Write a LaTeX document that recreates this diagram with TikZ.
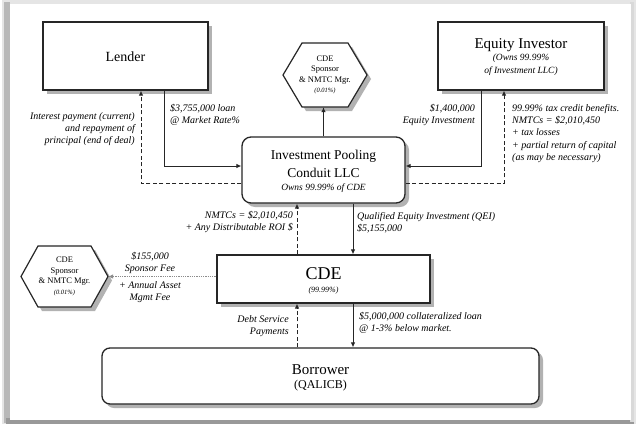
\documentclass[tikz,border=0pt]{standalone}
\usepackage{fontspec}
\setmainfont{Liberation Serif}
\usetikzlibrary{arrows.meta,shadows}

\newcommand\hexat[5]{% cx, cy, half width, half height, chamfer
  \begin{scope}[shift={(#1,#2)}]
    \fill[black!30] ({-#3+#5+4},{-#4+4}) -- ({#3-#5+4},{-#4+4}) -- ({#3+4},4) -- ({#3-#5+4},{#4+4}) -- ({-#3+#5+4},{#4+4}) -- ({-#3+4},4) -- cycle;
    \draw[hexline] ({-#3+#5},{-#4}) -- ({#3-#5},{-#4}) -- (#3,0) -- ({#3-#5},#4) -- ({-#3+#5},#4) -- (-#3,0) -- cycle;
  \end{scope}}

\begin{document}
\begin{tikzpicture}[x=1pt,y=-1pt,
  box/.style={draw=black!85, line width=1.3pt, fill=white, rectangle, inner sep=0pt,
    drop shadow={shadow xshift=4pt,shadow yshift=-4pt,fill=black!30,opacity=1}},
  rbox/.style={box, rounded corners=9pt},
  hexline/.style={draw=black!85, line width=1.2pt, fill=white},
  hexnode/.style={inner sep=0pt, align=center, font=\fontsize{8.5}{10.5}\selectfont},
  title/.style={inner sep=0pt, align=center},
  lbl/.style={inner sep=0pt, font=\fontsize{10}{12.3}\selectfont\itshape},
  arr/.style={-{Latex[length=5pt,width=4.5pt]}, line width=0.9pt, draw=black!85},
  arrd/.style={arr, dash pattern=on 4pt off 2.5pt},
  arrdot/.style={-{Latex[length=5pt,width=4.5pt]}, line width=0.8pt, draw=black!45, dash pattern=on 1pt off 0.8pt}
]
\useasboundingbox (0,0) rectangle (637,426);
% frame
\fill[white] (0,0) rectangle (637,426);
\fill[black!10] (2,0) rectangle (636,424);
\fill[black!28] (4,2) rectangle (10,423);
\fill[black!40] (6,418) rectangle (634,424);
\fill[black!15] (630,2) rectangle (634,422);
\fill[white] (10,4) rectangle (631,420);

% boxes
\node[box, minimum width=165pt, minimum height=68pt] (lender) at (125.5,56) {};
\node[title, font=\fontsize{14}{16}\selectfont] (lenderT) at (125.5,57) {Lender};

\node[box, minimum width=166pt, minimum height=68pt] (equity) at (521,56) {};
\node[title, font=\fontsize{15}{17}\selectfont] (equityT) at (521,45) {Equity Investor};
\node[title, font=\fontsize{9.5}{13}\selectfont\itshape] (equityS) at (521,65) {(Owns 99.99\%\\of Investment LLC)};

\node[rbox, minimum width=163pt, minimum height=66pt] (pool) at (323.5,170) {};
\node[title, font=\fontsize{13.5}{18}\selectfont] (poolT) at (323.5,164) {Investment Pooling\\Conduit LLC};
\node[title, font=\fontsize{9.5}{12}\selectfont\itshape] (poolS) at (323.5,188) {Owns 99.99\% of CDE};

\node[box, minimum width=213pt, minimum height=48pt] (cde) at (323.5,279) {};
\node[title, font=\fontsize{18}{20}\selectfont] (cdeT) at (323.5,274) {CDE};
\node[title, font=\fontsize{8}{10}\selectfont\itshape] (cdeS) at (323.5,291) {(99.99\%)};

\node[rbox, rounded corners=8pt, minimum width=437pt, minimum height=56pt] (borrower) at (320.5,376) {};
\node[title, font=\fontsize{15}{17}\selectfont] (borrowerT) at (320.5,370) {Borrower};
\node[title, font=\fontsize{12}{14}\selectfont] (borrowerS) at (320.5,386) {(QALICB)};

% hexagons
\hexat{325}{75}{42}{32}{19}
\node[hexnode, minimum width=84pt, minimum height=64pt] (hexT) at (325,75) {CDE\\Sponsor\\\& NMTC Mgr.\\{\fontsize{6.5}{8}\selectfont\itshape (0.01\%)}};
\hexat{64.5}{276.5}{43.5}{30.5}{17}
\node[hexnode, minimum width=87pt, minimum height=61pt] (hexL) at (64.5,276.5) {CDE\\Sponsor\\\& NMTC Mgr.\\{\fontsize{6.5}{8}\selectfont\itshape (0.01\%)}};

% junction coordinates
\coordinate (jL) at (164,166);
\coordinate (jLd) at (141,183);
\coordinate (jR) at (481,166);
\coordinate (jRd) at (504,183);
\coordinate (xA) at (297,0);
\coordinate (xB) at (353,0);

% connectors
\draw[arr] (lender.south -| jL) |- (pool.west |- jL);
\draw[arrd] (pool.west |- jLd) -| (lender.south -| jLd);
\draw[arr] (equity.south -| jR) |- (pool.east |- jR);
\draw[arrd] (pool.east |- jRd) -| (equity.south -| jRd);
\draw[arr] (pool.north) -- (pool.north |- hexT.south);
\draw[arrd] (cde.north -| xA) -- (pool.south -| xA);
\draw[arr] (pool.south -| xB) -- (cde.north -| xB);
\draw[arrd] (borrower.north -| xA) -- (cde.south -| xA);
\draw[arr] (cde.south -| xB) -- (borrower.north -| xB);
\draw[arrdot] (cde.west |- hexL.east) -- (hexL.east);

% labels
\node[lbl, anchor=north east, align=right] (l1) at (135,112) {Interest payment (current)\\and repayment of\\principal (end of deal)};
\node[lbl, anchor=north west, align=left] (l2) at (170,104) {\$3,755,000 loan\\@ Market Rate\%};
\node[lbl, anchor=north east, align=right] (l3) at (475,104) {\$1,400,000\\Equity Investment};
\node[lbl, anchor=north west, align=left] (l4) at (512,104) {99.99\% tax credit benefits.\\NMTCs = \$2,010,450\\+ tax losses\\+ partial return of capital\\(as may be necessary)};
\node[lbl, anchor=north east, align=right] (l5) at (293,211) {NMTCs = \$2,010,450\\+ Any Distributable ROI \$};
\node[lbl, anchor=north west, align=left] (l6) at (357,212) {Qualified Equity Investment (QEI)\\\$5,155,000};
\node[lbl, anchor=south, align=center] (l7) at (150,274) {\$155,000\\Sponsor Fee};
\node[lbl, anchor=north, align=center] (l8) at (150,281) {+ Annual Asset\\Mgmt Fee};
\node[lbl, anchor=north east, align=right] (l9) at (289,315) {Debt Service\\Payments};
\node[lbl, anchor=north west, align=left] (l10) at (359,312) {\$5,000,000 collateralized loan\\@ 1-3\% below market.};
\end{tikzpicture}
\end{document}
